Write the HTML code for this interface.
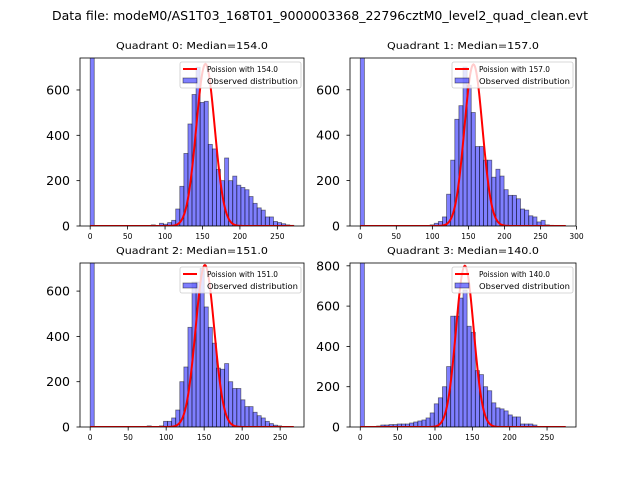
<!DOCTYPE html>
<html><head><meta charset="utf-8">
<style>
body{margin:0;background:#fff;}
svg{display:block;font-family:"DejaVu Sans","Liberation Sans",sans-serif;}
</style></head>
<body>
<svg id="fig" width="640" height="480" viewBox="0 0 640 480">
<rect width="640" height="480" fill="#fff"/>
<text x="320" y="20" text-anchor="middle" font-size="12" textLength="536" lengthAdjust="spacingAndGlyphs">Data file: modeM0/AS1T03_168T01_9000003368_22796cztM0_level2_quad_clean.evt</text>
</svg>
<script>
// ---- data ----
const quadrantNames = ["Quadrant 0","Quadrant 1","Quadrant 2","Quadrant 3"];
const medians = [154.0, 157.0, 151.0, 140.0];
const dataMax = [272, 285, 268, 275];
const curvePeaks = [715, 712, 715, 800];
const counts0 = [900,0,0,0,0,0,0,0,0,0,0,0,0,0,0,5,0,12,8,15,25,75,175,320,450,580,700,545,550,360,340,250,200,300,200,220,180,170,160,130,100,80,70,40,40,20,15,10,5,3];
const counts1 = [900,0,0,0,0,0,0,0,0,0,0,0,0,0,0,0,2,5,12,20,40,140,290,470,530,700,620,500,350,350,290,290,215,250,220,160,135,135,120,75,70,45,40,18,25,5,3,2,1,1];
const counts2 = [900,0,0,0,0,0,0,0,0,0,0,0,0,0,5,0,0,5,25,25,40,75,200,265,440,640,640,700,530,440,370,260,255,280,200,170,170,120,90,90,65,50,40,25,15,8,5,2,1,0];
const counts3 = [900,0,0,0,5,10,10,12,12,15,15,15,20,25,30,35,45,70,115,145,200,300,550,550,640,680,500,470,280,260,200,180,120,95,90,80,60,50,50,15,15,15,10,3,2,2,1,1,0,0];
const allCounts = [counts0, counts1, counts2, counts3];
const yTop = [741, 740, 724, 814];
const yTicks0 = [0,200,400,600];
const yTicks3 = [0,200,400,600,800];
const xTicks0 = [0,50,100,150,200,250];
const xTicks1 = [0,50,100,150,200,250,300];

// ---- layout ----
const boxes = [
  {l:80,r:304,t:58,b:226},
  {l:350,r:576,t:58,b:226},
  {l:80,r:304,t:263,b:427},
  {l:350,r:576,t:263,b:427}
];
const NS = "http://www.w3.org/2000/svg";
const svg = document.getElementById('fig');
function mk(tag, attrs, parent){
  const e = document.createElementNS(NS, tag);
  for (const k in attrs) e.setAttribute(k, attrs[k]);
  (parent||svg).appendChild(e);
  return e;
}

for (let q=0;q<4;q++){
  const B = boxes[q];
  const max = dataMax[q];
  const x0 = -0.05*max, x1 = 1.05*max;
  const sx = v => B.l + (v-x0)/(x1-x0)*(B.r-B.l);
  const sy = v => B.b - v/yTop[q]*(B.b-B.t);
  const g = mk('g', {});
  
  
  const clipId = 'clip'+q;
  const cp = mk('clipPath', {id:clipId}, g);
  mk('rect', {x:B.l, y:B.t, width:B.r-B.l, height:B.b-B.t}, cp);

  // title
  const t = mk('text', {x:(B.l+B.r)/2, y:B.t-9, 'text-anchor':'middle', 'font-size':'10', textLength:'152', lengthAdjust:'spacingAndGlyphs'}, g);
  t.textContent = quadrantNames[q] + ": Median=" + medians[q].toFixed(1);
  
  

  // bars
  const bars = mk('g', {'clip-path':'url(#'+clipId+')'}, g);
  const counts = allCounts[q];
  const bw = max/counts.length;
  counts.forEach((c,i)=>{
    if (c<=0) return;
    const xa = sx(i*bw), xb = sx((i+1)*bw);
    const r = mk('rect', {x:xa, y:sy(c), width:xb-xa, height:sy(0)-sy(c), fill:'rgba(0,0,255,0.5)', stroke:'rgba(0,0,0,0.5)', 'stroke-width':'0.8'}, bars);
    
    
  });

  // Poisson curve (normal approximation)
  const lam = medians[q];
  let d = '';
  for (let k=0;k<=max;k+=1){
    const v = curvePeaks[q]*Math.exp(-(k-lam)*(k-lam)/(2*lam));
    d += (k===0?'M':'L') + sx(k).toFixed(2) + ',' + sy(v).toFixed(2);
  }
  const curve = mk('path', {d:d, fill:'none', stroke:'#ff0000', 'stroke-width':'2'}, bars);
  
  

  // frame
  const fr = mk('rect', {x:B.l, y:B.t, width:B.r-B.l, height:B.b-B.t, fill:'none', stroke:'#000', 'stroke-width':'0.8'}, g);
  
  

  // x ticks
  const xt = (q===1) ? xTicks1 : xTicks0;
  xt.forEach(v=>{
    const x = sx(v);
    mk('line', {x1:x, x2:x, y1:B.b, y2:B.b+3.5, stroke:'#000', 'stroke-width':'0.8'}, g);
    const tl = mk('text', {x:x, y:B.b+13, 'text-anchor':'middle', 'font-size':'7.5'}, g);
    tl.textContent = v;
    
    
  });
  // y ticks
  const yt = (q===3) ? yTicks3 : yTicks0;
  yt.forEach(v=>{
    const y = sy(v);
    mk('line', {x1:B.l-3.5, x2:B.l, y1:y, y2:y, stroke:'#000', 'stroke-width':'0.8'}, g);
    const tl = mk('text', {x:B.l-10, y:y+4.5, 'text-anchor':'end', 'font-size':'12.5'}, g);
    tl.textContent = v;
    
    
  });

  // legend
  const lg = mk('g', {}, g);
  
  
  const lx = B.r - 124, ly = B.t + 4;
  mk('rect', {x:lx, y:ly, width:121, height:26, fill:'rgba(255,255,255,0.8)', stroke:'#ccc', 'stroke-width':'0.8', rx:2}, lg);
  mk('line', {x1:lx+3, x2:lx+17, y1:ly+7, y2:ly+7, stroke:'#ff0000', 'stroke-width':'2'}, lg);
  const l1 = mk('text', {x:lx+27, y:ly+10, 'font-size':'7.5', textLength:'71', lengthAdjust:'spacingAndGlyphs'}, lg);
  l1.textContent = 'Poission with ' + medians[q].toFixed(1);
  
  
  mk('rect', {x:lx+3, y:ly+16, width:14, height:5, fill:'rgba(0,0,255,0.5)', stroke:'rgba(0,0,0,0.5)', 'stroke-width':'0.8'}, lg);
  const l2 = mk('text', {x:lx+27, y:ly+22, 'font-size':'7.5', textLength:'91', lengthAdjust:'spacingAndGlyphs'}, lg);
  l2.textContent = 'Observed distribution';
  
  
}
</script>
</body></html>
